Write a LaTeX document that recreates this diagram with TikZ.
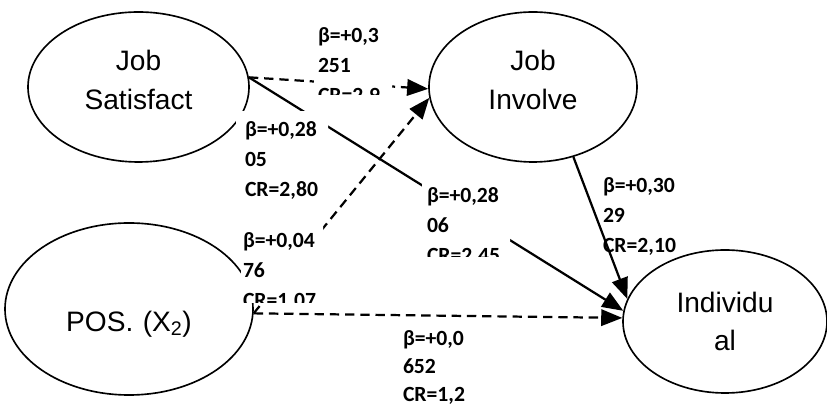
\documentclass[tikz,border=0pt]{standalone}
\usepackage{fontspec}
\setmainfont{Liberation Sans}
\newfontfamily\lblfont{Carlito}
\usetikzlibrary{arrows.meta,shapes.geometric}

\begin{document}
\begin{tikzpicture}[x=0.03cm,y=-0.03cm,
    latent/.style={ellipse,draw,line width=1.4pt,inner sep=0pt,align=center,
      text width=3.8cm,font=\fontsize{24}{33}\selectfont},
    link/.style={line width=1.9pt,-{Triangle[length=18pt,width=14pt]}},
    dlink/.style={link,dash pattern=on 8pt off 5pt},
    lbl/.style={font={\lblfont\bfseries\fontsize{18.5}{25.2}\selectfont},
      align=left,text width=2.6cm,inner sep=0pt,anchor=text},
    box/.style={lbl,fill=white,inner sep=12pt}]
    \useasboundingbox (0,0) rectangle (827,405);
    \node[latent,minimum width=6.63cm,minimum height=4.5cm,text height=18pt,text depth=45.5pt]
      (js) at (138.5,87) {Job\\Satisfact};
    \node[latent,minimum width=6.24cm,minimum height=4.5cm,text height=18pt,text depth=45.5pt]
      (ji) at (533,87) {Job\\Involve};
    \node[latent,minimum width=7.44cm,minimum height=5.16cm] (pos) at (129,309)
      {\raisebox{-19pt}[0pt][0pt]{POS. (X\textsubscript{2})}};
    \node[latent,minimum width=6.12cm,minimum height=4.29cm] (ind) at (725,321.5) {Individu\\al};
    \draw[dlink] (js.5) -- (ji.181);
    \draw[link] (js.5) -- (ind.174);
    \draw[dlink] (pos.-2) -- (ji.186);
    \draw[dlink] (pos.-2) -- (ind.178);
    \begin{scope}
        \clip (314,22) rectangle (392,95);
        \node[box] (b1) at (318,43) {β=+0,3\\251\\CR=2,9};
    \end{scope}
    \begin{scope}
        \clip (236,112) rectangle (328,200);
        \node[box] (b2) at (245,137) {β=+0,28\\05\\CR=2,80};
    \end{scope}
    \begin{scope}
        \clip (241,227) rectangle (323,303);
        \node[box] (b3) at (243,248) {β=+0,04\\76\\CR=1,07};
    \end{scope}
    \begin{scope}
        \clip (398,325) rectangle (472,405);
        \node[box,font={\lblfont\bfseries\fontsize{18.5}{23.5}\selectfont}] (b4) at (403,346) {β=+0,0\\652\\CR=1,2};
    \end{scope}
    \begin{scope}
        \clip (422,178) rectangle (510,257);
        \node[box] (b5) at (427,203) {β=+0,28\\06\\CR=2,45};
    \end{scope}
    \node[lbl] (b6) at (603,193) {β=+0,30\\29\\CR=2,10};
    \draw[link] (ji.-60) -- (ind.167);
\end{tikzpicture}
\end{document}
